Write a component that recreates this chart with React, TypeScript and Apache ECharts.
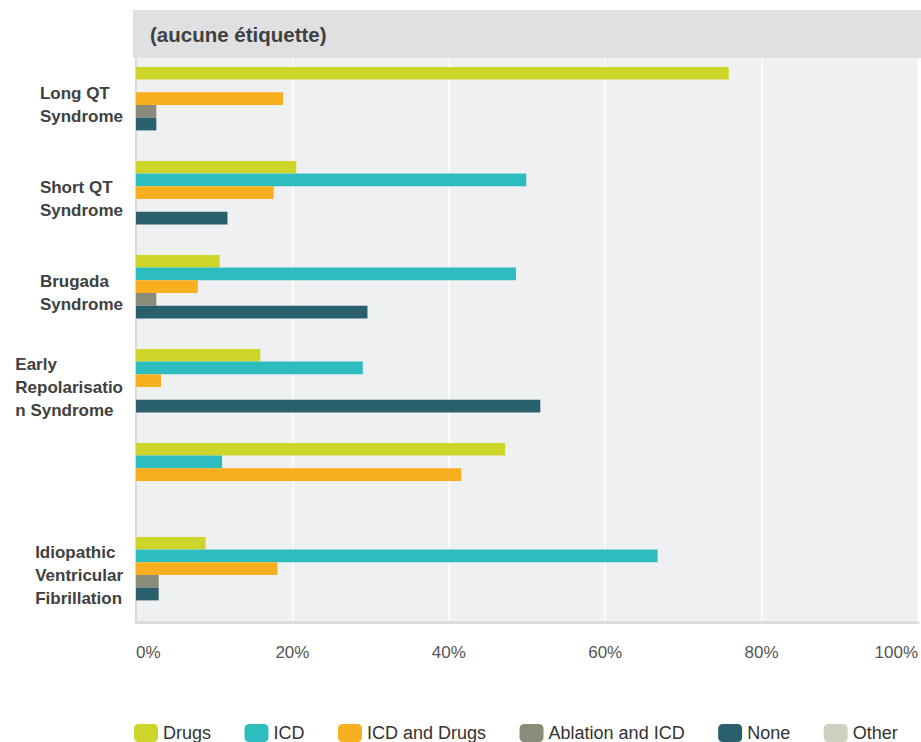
import React, { useEffect, useRef } from "react";
import * as echarts from "echarts";

const categories = [
  "Long QT Syndrome",
  "Short QT Syndrome",
  "Brugada Syndrome",
  "Early Repolarisation Syndrome",
  "",
  "Idiopathic Ventricular Fibrillation",
];
const drugs = [75.8, 20.5, 10.7, 15.9, 47.2, 8.9];
const icd = [0, 49.9, 48.6, 29.0, 11.0, 66.7];
const icdAndDrugs = [18.8, 17.6, 7.9, 3.2, 41.6, 18.1];
const ablationAndIcd = [2.6, 0, 2.6, 0, 0, 2.9];
const none = [2.6, 11.7, 29.6, 51.7, 0, 2.9];
const other = [0, 0, 0, 0, 0, 0];

const seriesNames = ["Drugs", "ICD", "ICD and Drugs", "Ablation and ICD", "None", "Other"];
const seriesData = [drugs, icd, icdAndDrugs, ablationAndIcd, none, other];
const colors = ["#cdd52a", "#2ebdbe", "#f7ae1f", "#8b8b7a", "#2a5f6c", "#d0d0c0"];
const headerText = "(aucune étiquette)";

const LABEL_FONT = 'bold 17px "Liberation Sans"';
const WRAP_WIDTH = 115;

function wrapLabel(text: string): string[] {
  if (!text) return [""];
  const ctx = document.createElement("canvas").getContext("2d")!;
  ctx.font = LABEL_FONT;
  const w = (s: string) => ctx.measureText(s).width;
  const lines: string[] = [];
  let line = "";
  for (const word of text.split(" ")) {
    const cand = line ? line + " " + word : word;
    if (w(cand) <= WRAP_WIDTH) {
      line = cand;
      continue;
    }
    if (line) lines.push(line);
    let rest = word;
    while (w(rest) > WRAP_WIDTH) {
      let i = rest.length;
      while (i > 1 && w(rest.slice(0, i)) > WRAP_WIDTH) i--;
      lines.push(rest.slice(0, i));
      rest = rest.slice(i);
    }
    line = rest;
  }
  if (line) lines.push(line);
  return lines;
}

export default function App() {
  const ref = useRef<HTMLDivElement>(null);
  useEffect(() => {
    if (!ref.current) return;
    const chart = echarts.init(ref.current, null, { renderer: "svg" });
    const option: any = {
      animation: false,
      backgroundColor: "#ffffff",
      textStyle: { fontFamily: '"Liberation Sans", Arial, sans-serif' },
      grid: {
        left: 136,
        right: 1,
        top: 58,
        bottom: 120,
        show: true,
        backgroundColor: "#eff0f2",
        borderWidth: 0,
        containLabel: false,
      },
      graphic: [
        {
          type: "rect",
          shape: { x: 133, y: 10, width: 788, height: 48 },
          style: { fill: "#dfe0e2" },
          z: 10,
        },
        {
          type: "text",
          x: 150,
          y: 34,
          style: {
            text: headerText,
            font: 'bold 20.5px "Liberation Sans", Arial, sans-serif',
            fill: "#404040",
            verticalAlign: "middle",
          },
          z: 11,
        },
      ],
      legend: {
        left: 134,
        top: 724,
        padding: 0,
        itemWidth: 24,
        itemHeight: 18,
        itemGap: 33.5,
        icon: "roundRect",
        textStyle: { fontSize: 18, color: "#333333" },
        data: seriesNames,
      },
      xAxis: {
        type: "value",
        min: 0,
        max: 100,
        interval: 20,
        axisLine: { show: true, lineStyle: { color: "#dcdddf", width: 3 } },
        axisTick: { show: false },
        splitLine: { show: true, lineStyle: { color: "#fafafa", width: 2 } },
        axisLabel: {
          formatter: "{value}%",
          fontSize: 17,
          color: "#555555",
          margin: 22,
          alignMinLabel: "left",
          alignMaxLabel: "right",
        },
      },
      yAxis: {
        type: "category",
        inverse: true,
        data: categories,
        axisLine: { show: true, lineStyle: { color: "#d8d9db", width: 2 } },
        axisTick: { show: false },
        splitLine: { show: false },
        axisLabel: {
          margin: 13,
          align: "right",
          formatter: (v: string) =>
            wrapLabel(v)
              .map((l) => (l ? `{t|${l}}` : ""))
              .join("\n"),
          rich: {
            t: {
              align: "left",
              fontSize: 17,
              fontWeight: "bold",
              lineHeight: 23,
              color: "#404040",
              fontFamily: '"Liberation Sans", Arial, sans-serif',
            },
          },
        },
      },
      series: seriesNames.map((name, i) => ({
        name,
        type: "bar",
        data: seriesData[i],
        barGap: "0%",
        barCategoryGap: "19%",
        itemStyle: { color: colors[i] },
      })),
    };
    chart.setOption(option);
    return () => chart.dispose();
  }, []);
  return (
    <div
      ref={ref}
      style={{ position: "absolute", left: 0, top: 0, width: 921, height: 742 }}
    />
  );
}
